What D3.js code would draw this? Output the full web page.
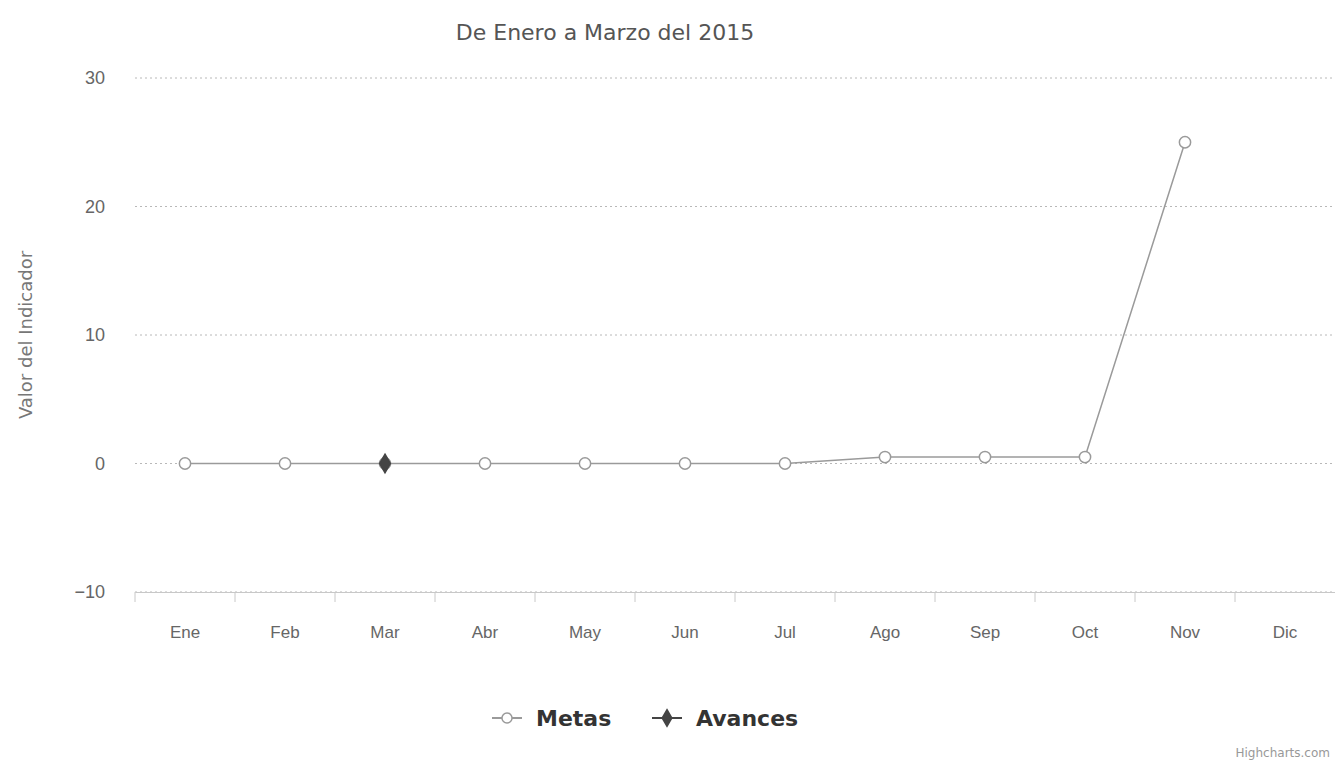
<!DOCTYPE html>
<html>
<head>
<meta charset="utf-8">
<script src="https://cdnjs.cloudflare.com/ajax/libs/d3/7.8.5/d3.min.js"></script>
<style>
  body { margin: 0; background: #fff; }
  svg { font-family: 'DejaVu Sans', sans-serif; }
</style>
</head>
<body>
<div class="holder"></div>
<script>
const months = ['Ene', 'Feb', 'Mar', 'Abr', 'May', 'Jun', 'Jul', 'Ago', 'Sep', 'Oct', 'Nov', 'Dic'];
const metas = [0, 0, 0, 0, 0, 0, 0, 0.5, 0.5, 0.5, 25, null];
const avances = [null, null, 0, null, null, null, null, null, null, null, null, null];
const yTicks = [-10, 0, 10, 20, 30];

const width = 1335;
const height = 767;
const plotLeft = 135;
const plotRight = 1335;
const plotTop = 78;
const plotBottom = 592;

const svg = d3
  .select('.holder')
  .append('svg')
  .attr('width', width)
  .attr('height', height);

const xScale = d3.scaleBand().domain(months).range([plotLeft, plotRight]);
const yScale = d3.scaleLinear().domain([-10, 30]).range([plotBottom, plotTop]);

// grid
svg
  .append('g')
  .selectAll('line')
  .data(yTicks)
  .enter()
  .append('line')
  .attr('x1', plotLeft)
  .attr('x2', plotRight)
  .attr('y1', d => yScale(d))
  .attr('y2', d => yScale(d))
  .attr('stroke', '#b8b8b8')
  .attr('stroke-dasharray', '2,3');

const yAxis = d3.axisLeft(yScale).tickValues(yTicks).tickSize(0).tickPadding(30);
svg
  .append('g')
  .attr('transform', `translate(${plotLeft}, 0)`)
  .call(yAxis)
  .call(g => g.select('.domain').remove())
  .selectAll('text')
  .attr('font-size', 18)
  .attr('fill', '#666');

const xAxis = d3.axisBottom(xScale).tickSize(0).tickPadding(34);
const xg = svg
  .append('g')
  .attr('transform', `translate(0, ${plotBottom})`)
  .call(xAxis);
xg.select('.domain').attr('stroke', '#c8c8c8');
xg.selectAll('text').attr('font-size', 17).attr('fill', '#666');

// tick marks on category boundaries
svg
  .append('g')
  .selectAll('line')
  .data(months)
  .enter()
  .append('line')
  .attr('x1', d => xScale(d))
  .attr('x2', d => xScale(d))
  .attr('y1', plotBottom)
  .attr('y2', plotBottom + 10)
  .attr('stroke', '#c8c8c8');

svg
  .append('text')
  .attr('x', 605)
  .attr('y', 40)
  .attr('text-anchor', 'middle')
  .attr('font-size', 22)
  .attr('fill', '#555')
  .text('De Enero a Marzo del 2015');

svg
  .append('text')
  .attr('transform', 'rotate(-90)')
  .attr('x', -335)
  .attr('y', 32)
  .attr('text-anchor', 'middle')
  .attr('font-size', 18)
  .attr('fill', '#777')
  .text('Valor del Indicador');

const line = d3
  .line()
  .defined(d => d != null)
  .x((d, i) => xScale(months[i]) + xScale.bandwidth() / 2)
  .y(d => yScale(d));

const series = [
  { name: 'Metas', values: metas, color: '#9a9a9a', symbol: d3.symbolCircle },
  { name: 'Avances', values: avances, color: '#444', symbol: d3.symbolDiamond }
];

series.forEach(s => {
  svg
    .append('path')
    .datum(s.values)
    .attr('d', line)
    .attr('fill', 'none')
    .attr('stroke', s.color)
    .attr('stroke-width', 1.5);

  svg
    .append('g')
    .selectAll('path')
    .data(s.values.map((v, i) => ({ v, i })).filter(d => d.v != null))
    .enter()
    .append('path')
    .attr('d', d3.symbol().type(s.symbol).size(100))
    .attr('transform', d => `translate(${xScale(months[d.i]) + xScale.bandwidth() / 2}, ${yScale(d.v)})`)
    .attr('fill', s.name === 'Metas' ? '#fff' : s.color)
    .attr('stroke', s.color)
    .attr('stroke-width', 1.5);
});

// legend
const legendX = [492, 652];
series.forEach((s, i) => {
  const g = svg.append('g').attr('transform', `translate(${legendX[i]}, 718)`);
  g.append('line')
    .attr('x1', 0)
    .attr('x2', 30)
    .attr('stroke', s.color)
    .attr('stroke-width', 2);
  g.append('path')
    .attr('d', d3.symbol().type(s.symbol).size(80))
    .attr('transform', 'translate(15, 0)')
    .attr('fill', s.name === 'Metas' ? '#fff' : s.color)
    .attr('stroke', s.color)
    .attr('stroke-width', 1.5);
  g.append('text')
    .attr('x', 44)
    .attr('y', 8)
    .attr('font-size', 22)
    .attr('font-weight', 'bold')
    .attr('fill', '#333')
    .text(s.name);
});

svg
  .append('text')
  .attr('x', 1330)
  .attr('y', 757)
  .attr('text-anchor', 'end')
  .attr('font-size', 12)
  .attr('fill', '#999')
  .text('Highcharts.com');
</script>
</body>
</html>
